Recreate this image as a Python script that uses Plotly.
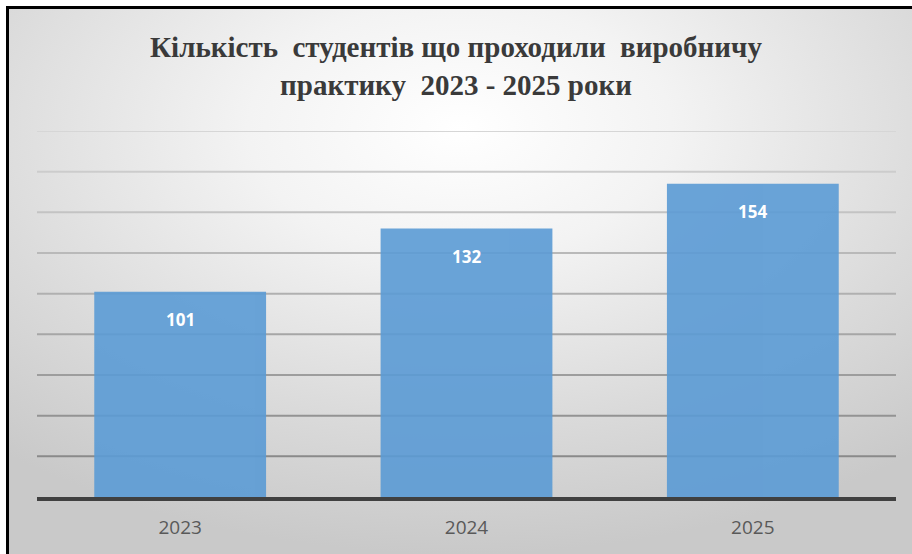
import base64
import plotly.graph_objects as go

years = ["2023", "2024", "2025"]
students = [101, 132, 154]
grid_values = [20, 40, 60, 80, 100, 120, 140, 160, 180]
title_lines = ["Кількість  студентів що проходили  виробничу", "практику  2023 - 2025 роки"]

W, H = 912, 554
L, R, T, B = 37, 16, 131, 57
pw, ph = W - L - R, H - T - B

svg = f'''<svg xmlns="http://www.w3.org/2000/svg" width="{W}" height="{H}" viewBox="0 0 {W} {H}">
<defs><radialGradient id="g" cx="0.5" cy="0.22" r="0.78" gradientUnits="objectBoundingBox">
<stop offset="0" stop-color="#ffffff"/><stop offset="0.3" stop-color="#f3f3f3"/>
<stop offset="0.7" stop-color="#dadada"/><stop offset="1" stop-color="#c9c9c9"/></radialGradient></defs>
<rect x="0" y="0" width="{W}" height="{H}" fill="#ffffff"/>
<rect x="8" y="8" width="{W-8}" height="{H-8}" fill="url(#g)"/>
<rect x="6" y="6" width="{W-6}" height="3" fill="#000000"/>
<rect x="6" y="6" width="3" height="{H-6}" fill="#000000"/>
</svg>'''
src = "data:image/svg+xml;base64," + base64.b64encode(svg.encode()).decode()

fig = go.Figure()
fig.add_trace(go.Bar(
    x=years, y=students,
    marker=dict(color="#5B9BD5", line=dict(width=0)),
    opacity=0.9,
    hoverinfo="skip",
))

annotations = [
    dict(x=i, y=v, xref="x", yref="y", text=f"<b>{v}</b>", showarrow=False, yshift=-28,
         font=dict(family="Open Sans", size=17, color="white"))
    for i, v in enumerate(students)
]

shapes = []
n = len(grid_values)
for i, gv in enumerate(grid_values):
    t = i / (n - 1)
    c = int(0x8a + (0xd6 - 0x8a) * t)
    shapes.append(dict(type="line", xref="paper", yref="y", x0=0, x1=1, y0=gv, y1=gv,
                       line=dict(color=f"rgb({c},{c},{c})", width=2), layer="below"))

fig.update_layout(
    width=W, height=H,
    margin=dict(l=L, r=R, t=T, b=B),
    paper_bgcolor="rgba(0,0,0,0)",
    plot_bgcolor="rgba(0,0,0,0)",
    showlegend=False,
    bargap=0.4,
    title=dict(text="<br>".join(title_lines), x=0.5, xanchor="center", y=1 - 57 / H, yanchor="middle",
               font=dict(family="Liberation Serif", size=29, color="#3a3a3a", weight="bold")),
    xaxis=dict(type="category", range=[-0.5, len(years) - 0.5], showgrid=False,
               showline=True, linecolor="#404040", linewidth=3.5,
               zeroline=False, ticks="",
               tickfont=dict(family="Open Sans", size=19, color="#595959"), ticklabelstandoff=10),
    yaxis=dict(range=[0, 180], showgrid=False, zeroline=False, showticklabels=False, ticks=""),
    images=[dict(source=src, xref="paper", yref="paper", x=-L / pw, y=1 + T / ph,
                 sizex=W / pw, sizey=H / ph, sizing="stretch", xanchor="left", yanchor="top",
                 layer="below")],
    shapes=shapes,
    annotations=annotations,
)

fig.write_html("out.html")
